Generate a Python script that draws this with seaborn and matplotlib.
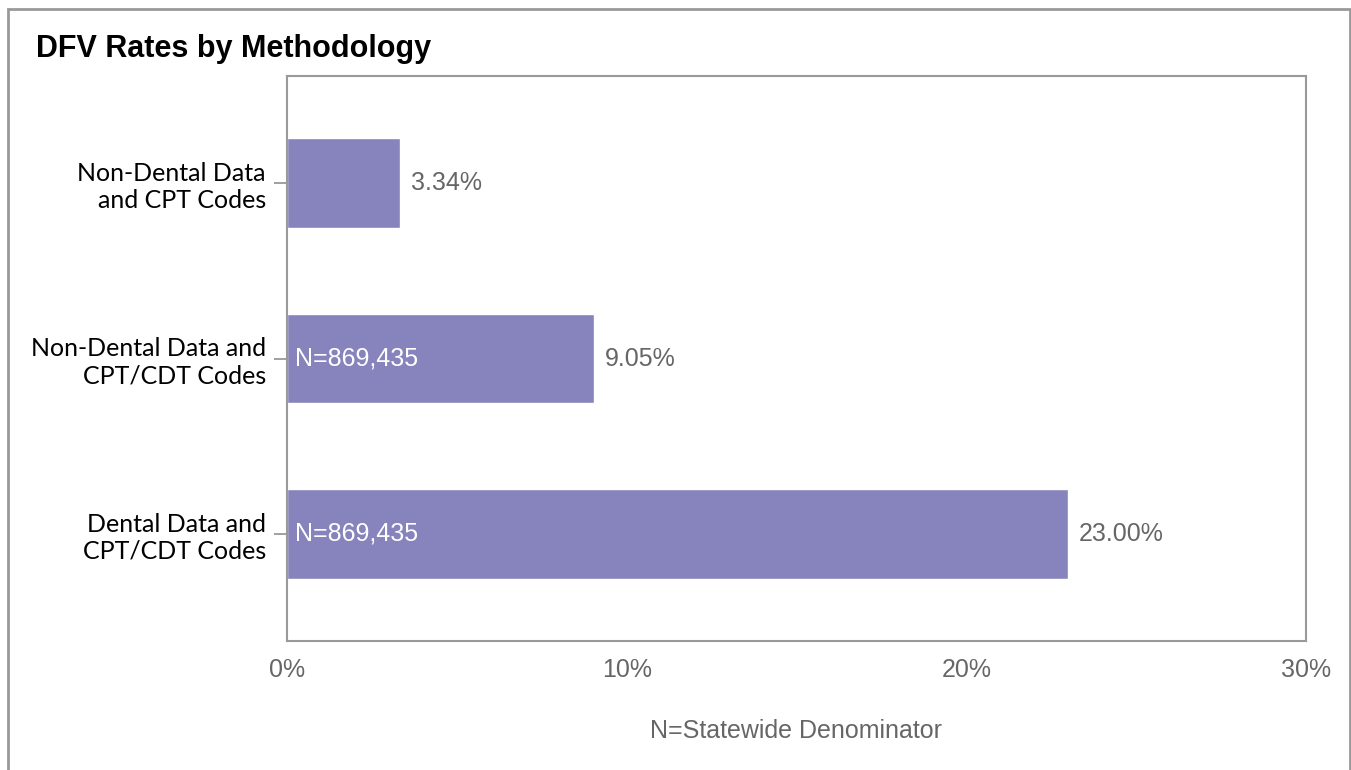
import matplotlib
matplotlib.use('Agg')
import matplotlib.pyplot as plt
import seaborn as sns
import pandas as pd
from matplotlib.patches import Rectangle

methods = ['Non-Dental Data\nand CPT Codes',
           'Non-Dental Data and\nCPT/CDT Codes',
           'Dental Data and\nCPT/CDT Codes']
rates = [3.34, 9.05, 23.00]
denominators = ['', 'N=869,435', 'N=869,435']
x_ticks = [0, 10, 20, 30]

df = pd.DataFrame({'method': methods, 'rate': rates, 'denom': denominators})

sns.set_theme(style='white')
plt.rcParams['font.family'] = ['Liberation Sans', 'DejaVu Sans']

fig = plt.figure(figsize=(13.51, 7.7), dpi=100)
ax = fig.add_axes([287 / 1351, 1 - 641 / 770, (1306 - 287) / 1351, (641 - 76) / 770])

sns.barplot(data=df, x='rate', y='method', color='#8783BC', saturation=1,
            width=0.51, ax=ax)

# value labels and denominators
for i, row in df.iterrows():
    ax.text(row['rate'] + 0.3, i, f"{row['rate']:.2f}%", va='center', ha='left',
            fontsize=18, color='#666666')
    if row['denom']:
        ax.text(0.25, i, row['denom'], va='center', ha='left', fontsize=18, color='white')

ax.set_xlim(0, 30)
ax.set_ylim(2.61, -0.61)
ax.set_xticks(x_ticks)
ax.set_xticklabels([f'{t}%' for t in x_ticks], fontsize=18, color='#666666')
ax.tick_params(axis='x', length=0, pad=12)
ax.tick_params(axis='y', length=9.4, width=1.3, color='#999999', left=True, pad=5.8)
for lbl in ax.get_yticklabels():
    lbl.set_fontfamily(['Lato', 'DejaVu Sans'])
    lbl.set_fontsize(18)
    lbl.set_color('black')
    lbl.set_horizontalalignment('right')
    lbl.set_multialignment('right')
ax.set_ylabel('')
ax.set_xlabel('N=Statewide Denominator', fontsize=18, color='#666666', labelpad=27)
for s in ax.spines.values():
    s.set_color('#999999')
    s.set_linewidth(1.5)

fig.text(36 / 1351, 1 - 49 / 770, 'DFV Rates by Methodology', fontsize=22,
         fontweight='bold', color='black', va='center', ha='left')

# outer frame
fig.patches.append(Rectangle((8 / 1351, -0.05), (1350 - 8) / 1351, 1.05 - 9 / 770,
                             transform=fig.transFigure, fill=False,
                             edgecolor='#999999', linewidth=2))

fig.savefig('out.png', dpi=100)
plt.close(fig)
